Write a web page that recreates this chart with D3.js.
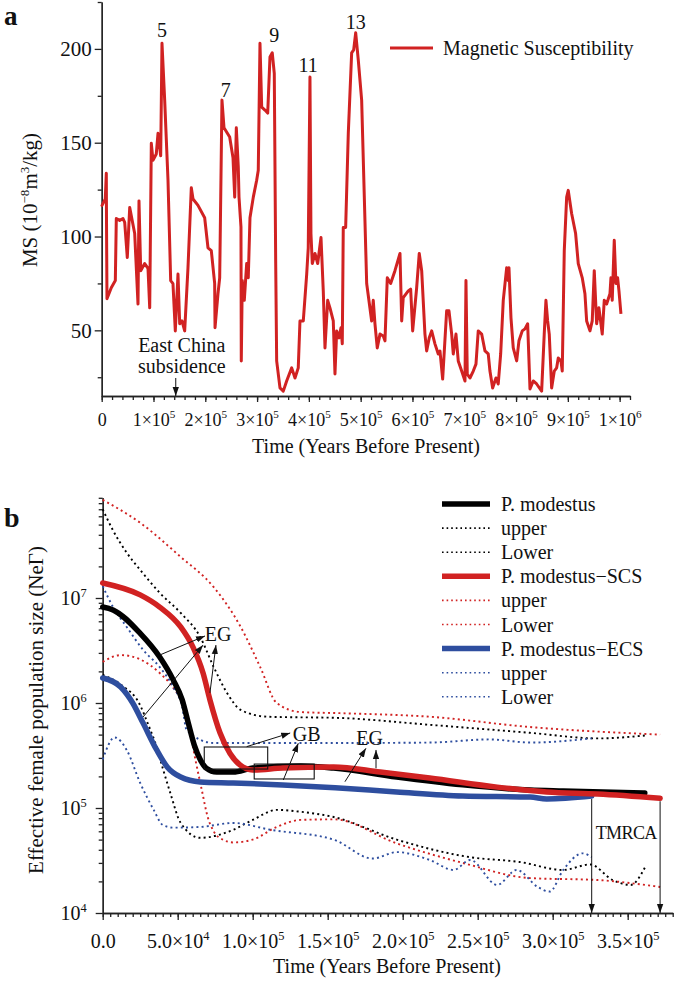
<!DOCTYPE html>
<html>
<head>
<meta charset="utf-8">
<script src="https://cdn.jsdelivr.net/npm/d3@7"></script>
<style>
body { margin: 0; background: #fff; }
text { font-family: "Liberation Serif", "Times New Roman", serif; font-size: 20px; fill: #111; }
.axis path, .axis line { stroke: #222; stroke-width: 1.3px; }
.small text { font-size: 18px; }
</style>
</head>
<body>
<svg id="chart" width="675" height="982"></svg>
<script>
// ---------- panel a : magnetic susceptibility, [time (kyr BP), MS]
var msSeries = [
  [0, 117], [0.6, 116.6], [6.9, 120], [8.9, 133.7], [9.3, 107], [10.2, 66.8], [18.5, 72.7], [26.3, 76.5],
  [28.2, 109.6], [34.7, 108.6], [41.1, 109.6], [44.4, 107.5], [49.4, 88.8], [54.1, 115.5], [63.7, 101.6],
  [70.1, 64], [72, 119], [75.3, 81.8], [83, 85.6], [89.4, 83], [92.7, 62], [95.8, 149.7], [99, 140.6],
  [105.4, 144], [108.7, 155], [113.9, 143], [116.4, 203], [121.6, 172.7], [128, 130], [133.2, 76.5],
  [137.6, 74.9], [142.1, 49.7], [147.3, 80], [150.6, 53.5], [155, 55], [160.2, 49.7], [166.6, 83.4],
  [173, 126], [176.3, 120], [185.9, 116.6], [198.8, 110], [205.2, 94], [211.6, 92.5], [218.1, 75],
  [218.8, 51.4], [224.5, 69.5], [227.8, 78], [232.2, 172.7], [236.1, 158], [247.1, 153], [253.5, 142],
  [256.8, 121], [259.9, 158], [263.7, 137], [265.1, 121], [268.9, 105], [269.5, 33.7], [271.4, 76.5],
  [275.3, 66], [279.9, 85.6], [283, 78], [286.3, 110], [292.7, 121], [299.2, 130], [302.3, 135.3],
  [305.6, 203], [308.9, 169], [315.2, 167.4], [320.5, 165.8], [324.9, 195.7], [329.3, 197.9], [333.2, 187],
  [335.9, 87], [337.8, 33.7], [344.2, 19.3], [350.6, 17.6], [357.1, 23], [366.8, 30], [373.2, 24.6],
  [379.5, 30], [382.8, 55], [389.2, 55], [395.8, 80], [398.8, 94], [402.1, 185], [404, 101.6],
  [406.6, 85.6], [411.8, 91], [417, 85.6], [423.4, 99.5], [427.8, 71], [431.1, 40.6], [436.3, 66],
  [440.7, 62], [447.1, 55], [450.4, 26.7], [453.7, 49.7], [458.1, 46], [462, 51.4], [464.5, 42.8],
  [466.4, 104.8], [471, 104.8], [476.1, 155], [482.6, 197.9], [486.5, 199.5], [490.4, 208.6], [495.4, 194],
  [501.9, 172.7], [511.6, 75], [521.2, 55], [524.3, 66], [527.6, 53.5], [532, 40.6], [537.3, 48],
  [543.6, 47], [546.9, 44.4], [551.4, 78], [557.9, 75], [566.2, 81.8], [575.9, 91], [579.2, 55],
  [582.2, 67.4], [591.9, 71], [596.5, 72], [600.4, 49.7], [608.1, 72.7], [613.1, 91], [617.8, 81.8],
  [624.1, 48], [627.4, 39], [632.4, 46], [637.1, 49.7], [643.4, 42.8], [649.8, 37.4], [653.1, 39],
  [658.3, 24], [666, 60.4], [670.5, 60.4], [675.7, 48], [678.8, 37.4], [684, 48], [688.4, 33.7],
  [695, 28.3], [701.4, 23], [703.3, 76.5], [705.8, 26.7], [711, 24.6], [717.4, 28.3], [722.6, 32],
  [727, 49.7], [733.6, 48], [740, 39], [746.3, 37.4], [749.6, 28.3], [754.8, 19.3], [761.2, 24.6],
  [765.6, 21.4], [770.3, 37.4], [775.3, 66], [781.9, 83.4], [785, 76.5], [786.3, 83.4], [790.2, 56.7],
  [794.6, 40.6], [801.2, 33.7], [805.6, 44.4], [812, 49.7], [817.2, 50.8], [822.4, 53.5], [826.9, 18.7],
  [833.2, 23], [839.8, 21.4], [849.4, 17.6], [854.4, 48], [857.7, 66], [861, 55], [864.1, 48],
  [868.7, 19.3], [873.8, 28.3], [878.4, 30], [881.5, 35.3], [886.7, 33.7], [889.2, 28.3], [893.1, 92.5],
  [897.7, 121], [900.8, 124.6], [907.3, 112.3], [915, 101.6], [920.1, 85.6], [927.8, 78], [933, 69.5],
  [936.3, 55], [942.7, 49.7], [947.1, 55], [951, 81.8], [955.6, 53.5], [960, 62], [966.4, 48],
  [970.3, 66], [974.9, 64], [981.3, 69.5], [983.2, 78], [985.7, 66], [989.6, 98], [992.8, 75],
  [996.1, 78], [998.7, 71], [1002.5, 58.8]
];
// stage labels: [time (kyr), MS, label]
var msStages = [[116.4, 210, "5"], [239.4, 178, "7"], [333.2, 207.5, "9"], [398.8, 191.4, "11"], [490.3, 214.6, "13"]];
var subsidenceKyr = 143;

// ---------- panel b : effective female population size, [time (yr BP), NeT]
var pmMean = [[0, 8.2e6], [6900, 7.7e6], [25000, 4.6e6], [38000, 2.74e6], [47000, 1.66e6], [53000, 1.07e6],
  [57000, 6.5e5], [61000, 4.0e5], [65000, 2.9e5], [69000, 2.4e5], [76000, 2.2e5], [87000, 2.2e5],
  [100000, 2.4e5], [132000, 2.51e5], [154000, 2.4e5], [196000, 1.97e5], [240000, 1.66e5], [285000, 1.48e5],
  [307000, 1.45e5], [361400, 1.39e5]];
var pmUpper = [[0, 7.0e7], [6900, 4.4e7], [16000, 2.7e7], [25000, 1.85e7], [38000, 1.12e7], [52000, 7.2e6],
  [65000, 4.25e6], [74000, 2.2e6], [83000, 1.24e6], [92000, 8.6e5], [110000, 7.4e5], [158000, 7.2e5],
  [218000, 6.2e5], [285000, 5.2e5], [330000, 4.6e5], [361400, 4.9e5]];
var pmLower = [[0, 1.85e6], [12000, 1.5e6], [25000, 9.5e5], [30000, 6.4e5], [36000, 3.8e5], [40000, 2.4e5],
  [45000, 1.4e5], [52000, 7.2e4], [65000, 5.2e4], [87000, 6.2e4], [100000, 7.7e4], [116000, 9.6e4],
  [132000, 9.2e4], [154000, 8.2e4], [196000, 5.0e4], [245000, 3.4e4], [278000, 3.06e4], [307000, 2.57e4],
  [325000, 2.9e4], [340000, 2.06e4], [352000, 1.85e4], [361400, 2.7e4]];

var scsMean = [[0, 1.39e7], [25000, 1.07e7], [38000, 8.2e6], [52000, 5.3e6], [60200, 3.4e6], [66900, 1.93e6],
  [71500, 1.07e6], [78200, 5.2e5], [84900, 3.3e5], [91500, 2.57e5], [100000, 2.3e5], [120000, 2.4e5],
  [154000, 2.46e5], [185000, 2.2e5], [218000, 1.93e5], [263000, 1.58e5], [296000, 1.42e5], [330000, 1.36e5],
  [371600, 1.24e5]];
var scsUpper = [[0, 8.6e7], [25000, 5.2e7], [52000, 2.46e7], [74000, 1.27e7], [92000, 5.3e6], [105000, 2.2e6],
  [116000, 1.0e6], [132000, 8.2e5], [158000, 8.0e5], [218000, 7.4e5], [285000, 5.9e5], [371600, 5.0e5]];
var scsLower = [[0, 2.46e6], [12000, 2.86e6], [25000, 2.6e6], [38000, 1.93e6], [47000, 1.4e6], [53000, 1.0e6],
  [58000, 5.5e5], [62000, 2.8e5], [66000, 1.5e5], [70000, 8.2e4], [74000, 6.0e4], [80000, 5.0e4],
  [87000, 4.7e4], [100000, 5.0e4], [116000, 6.6e4], [132000, 7.7e4], [154000, 7.8e4], [196000, 4.6e4],
  [240000, 3.0e4], [285000, 2.15e4], [330000, 2.06e4], [371600, 1.77e4]];

var ecsMean = [[0, 1.73e6], [12000, 1.42e6], [20000, 1.0e6], [27000, 6.4e5], [36000, 3.57e5], [43000, 2.46e5],
  [52000, 1.97e5], [65000, 1.77e5], [87000, 1.73e5], [120000, 1.66e5], [155000, 1.56e5], [196000, 1.42e5],
  [240000, 1.3e5], [285000, 1.27e5], [296000, 1.22e5], [326000, 1.3e5]];
var ecsUpper = [[0, 1.3e7], [6900, 8.2e6], [16000, 5.3e6], [27000, 3.2e6], [38000, 2.2e6], [47000, 1.42e6],
  [53000, 9.2e5], [56000, 5.5e5], [74000, 4.16e5], [158000, 4.16e5], [218000, 4.2e5], [258000, 4.5e5],
  [285000, 4.2e5], [326000, 4.6e5]];
var ecsLower = [[0, 2.9e5], [8000, 4.7e5], [16000, 3.57e5], [25000, 1.73e5], [34000, 9.6e4], [40000, 6.9e4],
  [47000, 6.5e4], [65000, 6.6e4], [87000, 7.2e4], [112000, 6.2e4], [154000, 5.0e4], [180000, 3.3e4],
  [196000, 3.8e4], [218000, 3.2e4], [234000, 2.57e4], [245000, 3.2e4], [263000, 1.85e4], [276000, 2.57e4],
  [290000, 1.77e4], [298000, 1.6e4], [307000, 2.57e4], [320000, 3.7e4], [326000, 3.4e4]];

var legendNames = ["P. modestus", "upper", "Lower", "P. modestus\u2212SCS", "upper", "Lower",
  "P. modestus\u2212ECS", "upper", "Lower"];

// annotations (data units)
var egLabels = [[76900, 4.5e6], [178000, 4.69e5]];
var egArrows = [[[38200, 2.87e6], [68200, 4.35e6]], [[26900, 7.36e5], [66900, 3.56e6]],
  [[71500, 1.25e6], [75500, 3.56e6]], [[161500, 1.78e5], [175500, 3.7e5]], [[182200, 2.39e5], [182200, 3.57e5]]];
var gbLabel = [136000, 5.07e5];
var gbArrows = [[[96000, 3.84e5], [125000, 5.18e5]], [[120400, 1.85e5], [130400, 4.13e5]]];
var gbBoxes = [[[67700, 3.81e5], [110000, 2.35e5]], [[101000, 2.62e5], [141000, 1.89e5]]];
var tmrcaLabel = [349000, 5.8e4];

var red = "#d12222", blue = "#2e4e9f", black = "#000";

var svg = d3.select("#chart");
var defs = svg.append("defs");
defs.append("marker").attr("id", "head")
  .attr("viewBox", "0 0 10 10").attr("refX", 10).attr("refY", 5)
  .attr("markerWidth", 9).attr("markerHeight", 9).attr("markerUnits", "userSpaceOnUse")
  .attr("orient", "auto")
  .append("path").attr("d", "M0,1.5 L10,5 L0,8.5 Z").attr("fill", "#111");

function sup(sel, base, exp) {
  sel.text(null);
  sel.append("tspan").text(base);
  sel.append("tspan").attr("dy", -8).attr("font-size", "0.62em").text(exp);
}

function cleanAxis(g) {
  g.attr("font-family", null).attr("font-size", null).attr("class", "axis");
}

// ================= panel a =================
var xa = d3.scaleLinear().domain([0, 1020000]).range([101.7, 630]);
var ya = d3.scaleLinear().domain([15, 225]).range([396, 2]);

svg.append("g").attr("transform", "translate(0,396)")
  .call(d3.axisBottom(xa).tickValues(d3.range(0, 1020001, 20000)).tickSize(4).tickSizeOuter(0).tickFormat(""))
  .call(cleanAxis);
var xaMajor = svg.append("g").attr("transform", "translate(0,396)")
  .call(d3.axisBottom(xa).tickValues(d3.range(0, 1000001, 100000)).tickSize(6).tickPadding(11).tickSizeOuter(0))
  .call(cleanAxis);
xaMajor.classed("small", true);
xaMajor.selectAll(".tick text").each(function (d) {
  if (d === 0) { d3.select(this).text("0"); return; }
  var e = Math.floor(Math.log10(d) + 1e-9);
  sup(d3.select(this), Math.round(d / Math.pow(10, e)) + "\u00d710", e);
});

svg.append("g").attr("transform", "translate(101.7,0)")
  .call(d3.axisLeft(ya).tickValues(d3.range(25, 226, 50)).tickSize(4).tickSizeOuter(0).tickFormat(""))
  .call(cleanAxis);
svg.append("g").attr("transform", "translate(101.7,0)")
  .call(d3.axisLeft(ya).tickValues([50, 100, 150, 200]).tickSize(7).tickPadding(3).tickSizeOuter(0))
  .call(cleanAxis)
  .selectAll(".tick text").style("font-size", "21px");

svg.append("path").datum(msSeries)
  .attr("fill", "none").attr("stroke", red).attr("stroke-width", 3).attr("stroke-linejoin", "round")
  .attr("d", d3.line().x(function (d) { return xa(d[0] * 1000); }).y(function (d) { return ya(d[1]); }));

svg.selectAll(".stage").data(msStages).enter().append("text")
  .attr("x", function (d) { return xa(d[0] * 1000); })
  .attr("y", function (d) { return ya(d[1]); })
  .attr("dy", "0.35em").attr("text-anchor", "middle")
  .text(function (d) { return d[2]; });

// subsidence arrow
var sx = xa(subsidenceKyr * 1000);
svg.append("line").attr("x1", sx).attr("x2", sx).attr("y1", ya(24.6)).attr("y2", ya(15))
  .attr("stroke", "#111").attr("stroke-width", 1).attr("marker-end", "url(#head)");
svg.append("text").attr("x", sx + 6).attr("y", ya(38.6)).attr("text-anchor", "middle").text("East China");
svg.append("text").attr("x", sx + 6).attr("y", ya(27.2)).attr("text-anchor", "middle").text("subsidence");

// legend a
svg.append("line").attr("x1", 390).attr("x2", 433).attr("y1", 48).attr("y2", 48)
  .attr("stroke", red).attr("stroke-width", 3);
svg.append("text").attr("x", 443).attr("y", 55).text("Magnetic Susceptibility");

// titles a
svg.append("text").attr("x", 366).attr("y", 453).attr("text-anchor", "middle").text("Time (Years Before Present)");
var yta = svg.append("text").attr("transform", "translate(37,200) rotate(-90)").attr("text-anchor", "middle")
  .style("font-size", "21px");
yta.append("tspan").text("MS (10");
yta.append("tspan").attr("dy", -8).attr("font-size", "0.62em").text("\u22128");
yta.append("tspan").attr("dy", 8).text("m");
yta.append("tspan").attr("dy", -8).attr("font-size", "0.62em").text("3");
yta.append("tspan").attr("dy", 8).text("/kg)");

svg.append("text").attr("x", 4).attr("y", 25).style("font-size", "27px").style("font-weight", "bold").text("a");

// ================= panel b =================
var xb = d3.scaleLinear().domain([0, 380000]).range([102.7, 672.7]);
var yb = d3.scaleLog().domain([1e4, 9e7]).range([913, 497.8]);

svg.append("g").attr("transform", "translate(0,913)")
  .call(d3.axisBottom(xb).tickValues(d3.range(0, 380001, 5000)).tickSize(4).tickSizeOuter(0).tickFormat(""))
  .call(cleanAxis);
var xbMajor = svg.append("g").attr("transform", "translate(0,913)")
  .call(d3.axisBottom(xb).tickValues(d3.range(0, 350001, 50000)).tickSize(7).tickPadding(14).tickSizeOuter(0))
  .call(cleanAxis);
xbMajor.selectAll(".tick text").each(function (d) {
  if (d === 0) { d3.select(this).text("0.0"); return; }
  var e = Math.floor(Math.log10(d) + 1e-9);
  sup(d3.select(this), (d / Math.pow(10, e)).toFixed(1) + "\u00d710", e);
});

var yMinor = [];
[4, 5, 6, 7].forEach(function (e) {
  d3.range(2, 10).forEach(function (k) { if (k * Math.pow(10, e) <= 9e7) yMinor.push(k * Math.pow(10, e)); });
});
svg.append("g").attr("transform", "translate(102.7,0)")
  .call(d3.axisLeft(yb).tickValues(yMinor).tickSize(4).tickSizeOuter(0).tickFormat(""))
  .call(cleanAxis);
var ybMajor = svg.append("g").attr("transform", "translate(102.7,0)")
  .call(d3.axisLeft(yb).tickValues([1e4, 1e5, 1e6, 1e7]).tickSize(7).tickPadding(9).tickSizeOuter(0))
  .call(cleanAxis);
ybMajor.selectAll(".tick text").each(function (d) {
  sup(d3.select(this), "10", Math.round(Math.log10(d)));
});

var lineB = d3.line().x(function (d) { return xb(d[0]); }).y(function (d) { return yb(d[1]); })
  .curve(d3.curveMonotoneX);

var dotted = [[pmUpper, black], [pmLower, black], [scsUpper, red], [scsLower, red], [ecsUpper, blue], [ecsLower, blue]];
svg.selectAll(".bound").data(dotted).enter().append("path")
  .attr("fill", "none").attr("stroke", function (d) { return d[1]; })
  .attr("stroke-width", 1.9).attr("stroke-dasharray", "2,3.2")
  .attr("d", function (d) { return lineB(d[0]); });

var solid = [[ecsMean, blue], [pmMean, black], [scsMean, red]];
svg.selectAll(".mean").data(solid).enter().append("path")
  .attr("fill", "none").attr("stroke", function (d) { return d[1]; })
  .attr("stroke-width", 5.5).attr("stroke-linecap", "round")
  .attr("d", function (d) { return lineB(d[0]); });

// boxes, arrows, labels
svg.selectAll(".box").data(gbBoxes).enter().append("rect")
  .attr("x", function (d) { return xb(d[0][0]); })
  .attr("y", function (d) { return yb(d[0][1]); })
  .attr("width", function (d) { return xb(d[1][0]) - xb(d[0][0]); })
  .attr("height", function (d) { return yb(d[1][1]) - yb(d[0][1]); })
  .attr("fill", "none").attr("stroke", "#111").attr("stroke-width", 1.1);

svg.selectAll(".arr").data(egArrows.concat(gbArrows)).enter().append("line")
  .attr("x1", function (d) { return xb(d[0][0]); }).attr("y1", function (d) { return yb(d[0][1]); })
  .attr("x2", function (d) { return xb(d[1][0]); }).attr("y2", function (d) { return yb(d[1][1]); })
  .attr("stroke", "#111").attr("stroke-width", 1).attr("marker-end", "url(#head)");

svg.selectAll(".eg").data(egLabels).enter().append("text")
  .attr("x", function (d) { return xb(d[0]); }).attr("y", function (d) { return yb(d[1]); })
  .attr("dy", "0.35em").attr("text-anchor", "middle").text("EG");
svg.append("text").attr("x", xb(gbLabel[0])).attr("y", yb(gbLabel[1]))
  .attr("dy", "0.35em").attr("text-anchor", "middle").text("GB");

// TMRCA arrows from the end of the ECS and SCS curves
[ecsMean, scsMean].forEach(function (s) {
  var last = s[s.length - 1];
  svg.append("line").attr("x1", xb(last[0])).attr("x2", xb(last[0]))
    .attr("y1", yb(last[1]) + 3).attr("y2", yb(1e4))
    .attr("stroke", "#111").attr("stroke-width", 1).attr("marker-end", "url(#head)");
});
svg.append("text").attr("x", xb(tmrcaLabel[0])).attr("y", yb(tmrcaLabel[1]))
  .attr("dy", "0.35em").attr("text-anchor", "middle").style("font-size", "18px")
  .style("letter-spacing", "-0.6px").text("TMRCA");

// legend b
var legendColors = [black, black, black, red, red, red, blue, blue, blue];
var leg = svg.selectAll(".leg").data(legendNames).enter().append("g")
  .attr("transform", function (d, i) { return "translate(0," + (504 + i * 24.1) + ")"; });
leg.append("line").attr("x1", 442).attr("x2", 490)
  .attr("stroke", function (d, i) { return legendColors[i]; })
  .attr("stroke-width", function (d, i) { return i % 3 === 0 ? 5.5 : 1.6; })
  .attr("stroke-dasharray", function (d, i) { return i % 3 === 0 ? null : "1.6,3"; });
leg.append("text").attr("x", 501).attr("dy", "0.35em").text(function (d) { return d; });

// titles b
svg.append("text").attr("x", 387).attr("y", 973).attr("text-anchor", "middle").text("Time (Years Before Present)");
svg.append("text").attr("transform", "translate(43,710) rotate(-90)").attr("text-anchor", "middle")
  .style("font-size", "21px").text("Effective female population size (Ne\u0393)");

svg.append("text").attr("x", 4).attr("y", 527).style("font-size", "28px").style("font-weight", "bold").text("b");
</script>
</body>
</html>
